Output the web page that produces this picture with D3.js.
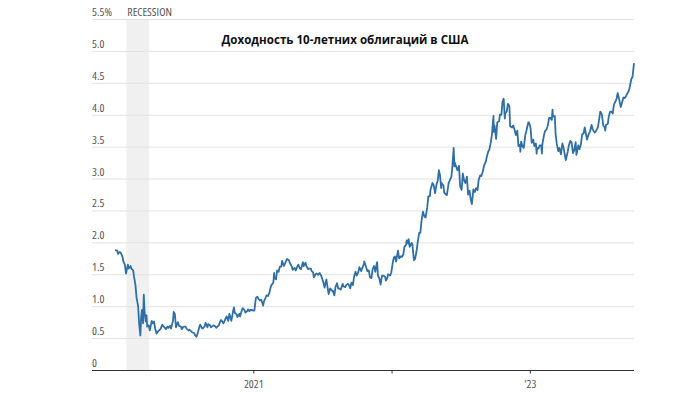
<!DOCTYPE html>
<html>
<head>
<meta charset="utf-8">
<script src="https://cdn.jsdelivr.net/npm/d3@7"></script>
<style>
  body { margin: 0; background: #fff; }
  svg { display: block; }
  .tick-label { font-family: "Open Sans", "Roboto", sans-serif; font-stretch: 75%; font-size: 11.6px; fill: #555; }
  .title { font-family: "Open Sans", sans-serif; font-weight: bold; font-size: 11.6px; fill: #111;
           stroke: #fff; stroke-width: 3px; paint-order: stroke; stroke-linejoin: round; }
</style>
</head>
<body>
<svg id="chart" width="700" height="393"></svg>
<script>
// --- data ---
const titleText = "Доходность 10-летних облигаций в США";
const yTicks = [0, 0.5, 1, 1.5, 2, 2.5, 3, 3.5, 4, 4.5, 5, 5.5];
const yTickLabels = ["0", "0.5", "1.0", "1.5", "2.0", "2.5", "3.0", "3.5", "4.0", "4.5", "5.0", "5.5%"];
const xTicks = ["2021-01-01", "2022-01-01", "2023-01-01"];
const xTickLabels = ["2021", "", "'23"];
const recession = ["2020-02-01", "2020-04-01"];

const dates2020 = ["2020-01-02","2020-01-08","2020-01-10","2020-01-14","2020-01-17","2020-01-22","2020-01-24","2020-01-28","2020-01-31","2020-02-05","2020-02-07","2020-02-12","2020-02-14","2020-02-19","2020-02-21","2020-02-25","2020-02-28","2020-03-03","2020-03-06","2020-03-09","2020-03-11","2020-03-13","2020-03-16","2020-03-18","2020-03-20","2020-03-23","2020-03-25","2020-03-27","2020-03-31","2020-04-03","2020-04-08","2020-04-10","2020-04-14","2020-04-17","2020-04-21","2020-04-24","2020-04-29","2020-05-01","2020-05-06","2020-05-08","2020-05-13","2020-05-15","2020-05-20","2020-05-22","2020-05-27","2020-05-29","2020-06-03","2020-06-05","2020-06-08","2020-06-11","2020-06-16","2020-06-19","2020-06-24","2020-06-26","2020-07-01","2020-07-06","2020-07-10","2020-07-14","2020-07-17","2020-07-22","2020-07-24","2020-07-29","2020-07-31","2020-08-04","2020-08-07","2020-08-12","2020-08-14","2020-08-18","2020-08-21","2020-08-26","2020-08-28","2020-09-02","2020-09-04","2020-09-09","2020-09-11","2020-09-16","2020-09-18","2020-09-23","2020-09-25","2020-09-30","2020-10-02","2020-10-07","2020-10-09","2020-10-14","2020-10-16","2020-10-21","2020-10-23","2020-10-27","2020-10-30","2020-11-04","2020-11-06","2020-11-09","2020-11-11","2020-11-13","2020-11-18","2020-11-20","2020-11-25","2020-11-27","2020-12-02","2020-12-04","2020-12-09","2020-12-11","2020-12-16","2020-12-18","2020-12-22","2020-12-24","2020-12-29","2020-12-31"];
const yields2020 = [1.88,1.87,1.82,1.85,1.84,1.77,1.70,1.65,1.51,1.65,1.59,1.63,1.59,1.56,1.47,1.33,1.13,1.00,0.71,0.54,0.82,0.94,0.73,1.18,0.92,0.76,0.86,0.68,0.70,0.62,0.77,0.73,0.76,0.65,0.57,0.60,0.63,0.64,0.71,0.69,0.66,0.64,0.68,0.66,0.69,0.65,0.77,0.91,0.88,0.67,0.75,0.69,0.68,0.64,0.68,0.68,0.64,0.62,0.63,0.60,0.59,0.58,0.55,0.52,0.57,0.68,0.71,0.66,0.65,0.69,0.74,0.67,0.72,0.70,0.67,0.69,0.70,0.68,0.66,0.69,0.70,0.78,0.78,0.73,0.75,0.82,0.84,0.77,0.88,0.77,0.83,0.93,0.98,0.90,0.87,0.83,0.88,0.84,0.94,0.97,0.94,0.90,0.92,0.95,0.92,0.94,0.94,0.93];

const dates2021 = ["2021-01-04","2021-01-06","2021-01-08","2021-01-12","2021-01-15","2021-01-19","2021-01-22","2021-01-27","2021-01-29","2021-02-03","2021-02-05","2021-02-09","2021-02-12","2021-02-16","2021-02-19","2021-02-23","2021-02-25","2021-02-26","2021-03-02","2021-03-05","2021-03-09","2021-03-12","2021-03-16","2021-03-18","2021-03-23","2021-03-26","2021-03-30","2021-03-31","2021-04-05","2021-04-09","2021-04-13","2021-04-15","2021-04-20","2021-04-23","2021-04-27","2021-04-30","2021-05-04","2021-05-07","2021-05-12","2021-05-14","2021-05-19","2021-05-21","2021-05-26","2021-05-28","2021-06-02","2021-06-04","2021-06-08","2021-06-10","2021-06-14","2021-06-17","2021-06-21","2021-06-25","2021-06-29","2021-07-02","2021-07-06","2021-07-08","2021-07-13","2021-07-16","2021-07-19","2021-07-23","2021-07-28","2021-07-30","2021-08-03","2021-08-06","2021-08-10","2021-08-13","2021-08-18","2021-08-20","2021-08-25","2021-08-27","2021-09-01","2021-09-03","2021-09-08","2021-09-10","2021-09-14","2021-09-17","2021-09-21","2021-09-24","2021-09-28","2021-10-01","2021-10-05","2021-10-08","2021-10-13","2021-10-15","2021-10-20","2021-10-21","2021-10-25","2021-10-29","2021-11-02","2021-11-05","2021-11-09","2021-11-12","2021-11-16","2021-11-19","2021-11-23","2021-11-24","2021-11-26","2021-11-30","2021-12-03","2021-12-07","2021-12-10","2021-12-15","2021-12-17","2021-12-20","2021-12-23","2021-12-28","2021-12-31"];
const yields2021 = [0.93,1.04,1.13,1.15,1.11,1.09,1.10,1.01,1.07,1.14,1.17,1.16,1.20,1.30,1.34,1.37,1.52,1.44,1.42,1.56,1.54,1.62,1.62,1.71,1.63,1.67,1.73,1.74,1.72,1.66,1.62,1.57,1.60,1.56,1.62,1.65,1.59,1.58,1.69,1.63,1.68,1.63,1.58,1.59,1.59,1.55,1.53,1.45,1.50,1.51,1.49,1.52,1.48,1.43,1.35,1.29,1.42,1.30,1.19,1.28,1.24,1.24,1.17,1.30,1.36,1.28,1.27,1.26,1.35,1.31,1.30,1.33,1.35,1.34,1.28,1.37,1.33,1.46,1.54,1.48,1.53,1.61,1.55,1.59,1.66,1.70,1.63,1.55,1.56,1.45,1.44,1.58,1.63,1.54,1.67,1.69,1.48,1.43,1.34,1.48,1.48,1.46,1.40,1.43,1.50,1.48,1.52];

const dates2022 = ["2022-01-03","2022-01-05","2022-01-07","2022-01-10","2022-01-13","2022-01-18","2022-01-21","2022-01-25","2022-01-28","2022-02-01","2022-02-04","2022-02-08","2022-02-10","2022-02-14","2022-02-15","2022-02-18","2022-02-23","2022-02-25","2022-03-01","2022-03-04","2022-03-08","2022-03-11","2022-03-15","2022-03-18","2022-03-22","2022-03-25","2022-03-29","2022-04-01","2022-04-05","2022-04-08","2022-04-12","2022-04-14","2022-04-19","2022-04-22","2022-04-26","2022-04-29","2022-05-03","2022-05-06","2022-05-09","2022-05-12","2022-05-13","2022-05-18","2022-05-20","2022-05-25","2022-05-27","2022-06-01","2022-06-03","2022-06-08","2022-06-10","2022-06-14","2022-06-16","2022-06-17","2022-06-22","2022-06-24","2022-06-28","2022-07-01","2022-07-05","2022-07-08","2022-07-12","2022-07-15","2022-07-19","2022-07-22","2022-07-26","2022-07-29","2022-08-01","2022-08-05","2022-08-09","2022-08-12","2022-08-16","2022-08-19","2022-08-23","2022-08-26","2022-08-30","2022-09-02","2022-09-07","2022-09-09","2022-09-13","2022-09-16","2022-09-20","2022-09-23","2022-09-27","2022-09-28","2022-09-30","2022-10-04","2022-10-07","2022-10-12","2022-10-14","2022-10-18","2022-10-21","2022-10-24","2022-10-27","2022-10-28","2022-11-01","2022-11-04","2022-11-08","2022-11-10","2022-11-15","2022-11-18","2022-11-22","2022-11-25","2022-11-29","2022-12-02","2022-12-06","2022-12-07","2022-12-09","2022-12-13","2022-12-16","2022-12-20","2022-12-23","2022-12-28","2022-12-30"];
const yields2022 = [1.63,1.71,1.76,1.78,1.70,1.87,1.75,1.78,1.77,1.81,1.93,1.96,2.03,1.98,2.05,1.93,1.99,1.97,1.72,1.74,1.86,2.00,2.15,2.15,2.38,2.48,2.40,2.39,2.54,2.72,2.72,2.83,2.93,2.90,2.77,2.89,2.97,3.13,3.05,2.85,2.93,2.89,2.78,2.75,2.74,2.94,2.96,3.03,3.15,3.48,3.19,3.25,3.16,3.13,3.20,2.88,2.82,3.08,2.96,2.93,3.03,2.75,2.81,2.67,2.60,2.83,2.79,2.85,2.82,2.98,3.05,3.04,3.11,3.20,3.27,3.33,3.42,3.45,3.57,3.69,3.98,3.73,3.83,3.62,3.88,3.90,4.00,4.00,4.21,4.25,3.94,4.02,4.05,4.17,4.14,3.82,3.80,3.83,3.76,3.68,3.75,3.51,3.53,3.42,3.58,3.50,3.48,3.68,3.75,3.88,3.88];

const dates2023 = ["2023-01-03","2023-01-06","2023-01-10","2023-01-13","2023-01-17","2023-01-19","2023-01-20","2023-01-24","2023-01-27","2023-01-31","2023-02-02","2023-02-03","2023-02-07","2023-02-10","2023-02-14","2023-02-17","2023-02-21","2023-02-24","2023-02-28","2023-03-02","2023-03-03","2023-03-08","2023-03-10","2023-03-13","2023-03-17","2023-03-20","2023-03-24","2023-03-28","2023-03-31","2023-04-04","2023-04-06","2023-04-11","2023-04-14","2023-04-18","2023-04-21","2023-04-25","2023-04-28","2023-05-02","2023-05-04","2023-05-09","2023-05-12","2023-05-16","2023-05-19","2023-05-23","2023-05-26","2023-05-31","2023-06-01","2023-06-05","2023-06-09","2023-06-13","2023-06-16","2023-06-21","2023-06-23","2023-06-27","2023-06-30","2023-07-06","2023-07-10","2023-07-14","2023-07-18","2023-07-19","2023-07-21","2023-07-26","2023-07-28","2023-08-01","2023-08-04","2023-08-08","2023-08-11","2023-08-15","2023-08-18","2023-08-21","2023-08-25","2023-08-29","2023-09-01","2023-09-05","2023-09-08","2023-09-12","2023-09-15","2023-09-19","2023-09-22","2023-09-26","2023-09-29","2023-10-03"];
const yields2023 = [3.79,3.56,3.61,3.51,3.55,3.39,3.48,3.47,3.52,3.52,3.39,3.53,3.67,3.74,3.77,3.82,3.95,3.95,3.92,4.08,3.97,3.98,3.70,3.55,3.43,3.48,3.38,3.55,3.48,3.35,3.29,3.42,3.52,3.59,3.57,3.40,3.44,3.57,3.37,3.52,3.46,3.54,3.69,3.71,3.80,3.64,3.61,3.69,3.74,3.84,3.77,3.72,3.73,3.77,3.81,4.05,4.01,3.83,3.80,3.75,3.84,3.86,3.96,4.05,4.05,4.02,4.16,4.21,4.25,4.34,4.24,4.12,4.18,4.27,4.26,4.29,4.33,4.37,4.44,4.56,4.59,4.81];

// --- build ---
const parse = d3.timeParse("%Y-%m-%d");
const allDates = [...dates2020, ...dates2021, ...dates2022, ...dates2023];
const allYields = [...yields2020, ...yields2021, ...yields2022, ...yields2023];
const data = allDates.map((d, i) => ({date: parse(d), value: allYields[i]}));

const svg = d3.select("#chart");
const plotLeft = 92, plotRight = 634, plotTop = 19, plotBottom = 370;

const x = d3.scaleTime()
    .domain(d3.extent(data, d => d.date))
    .range([115, plotRight]);
const y = d3.scaleLinear()
    .domain([0, 5.5])
    .range([plotBottom, plotTop]);

// recession band
svg.append("rect")
    .attr("x", x(parse(recession[0])))
    .attr("y", y(5.5) + 1)
    .attr("width", x(parse(recession[1])) - x(parse(recession[0])))
    .attr("height", y(0) - y(5.5) - 1)
    .attr("fill", "#f0f0f0");

// grid
svg.append("g").selectAll("line")
    .data(yTicks.filter(d => d > 0))
    .join("line")
    .attr("x1", plotLeft).attr("x2", plotRight)
    .attr("y1", d => y(d) + 0.5).attr("y2", d => y(d) + 0.5)
    .attr("stroke", "#e2e2e2")
    .attr("stroke-width", 1);

svg.append("g").selectAll("text")
    .data(yTicks)
    .join("text")
    .attr("class", "tick-label")
    .attr("x", plotLeft)
    .attr("y", d => y(d) - 3)
    .text((d, i) => yTickLabels[i]);

svg.append("text")
    .attr("class", "tick-label")
    .attr("x", x(parse(recession[0])) + 1)
    .attr("y", y(5.5) - 3)
    .text("RECESSION");

// title
svg.append("text")
    .attr("class", "title")
    .attr("x", 345)
    .attr("y", 44)
    .attr("text-anchor", "middle")
    .text(titleText);

// line
const line = d3.line()
    .x(d => x(d.date))
    .y(d => y(d.value));
svg.append("path")
    .datum(data)
    .attr("d", line)
    .attr("fill", "none")
    .attr("stroke", "#2f6fa7")
    .attr("stroke-width", 1.8)
    .attr("stroke-linejoin", "round");

// x axis
svg.append("line")
    .attr("x1", plotLeft).attr("x2", plotRight)
    .attr("y1", plotBottom + 0.5).attr("y2", plotBottom + 0.5)
    .attr("stroke", "#333")
    .attr("stroke-width", 1.2);

const xAxis = svg.append("g")
    .attr("transform", "translate(0," + (plotBottom + 0.5) + ")")
    .call(d3.axisBottom(x)
        .tickValues(xTicks.map(parse))
        .tickSize(3)
        .tickFormat((d, i) => xTickLabels[i]));
xAxis.select(".domain").remove();
xAxis.selectAll(".tick line").attr("stroke", "#333");
xAxis.selectAll(".tick text")
    .attr("class", "tick-label")
    .attr("dy", null)
    .attr("y", 17);
</script>
</body>
</html>
